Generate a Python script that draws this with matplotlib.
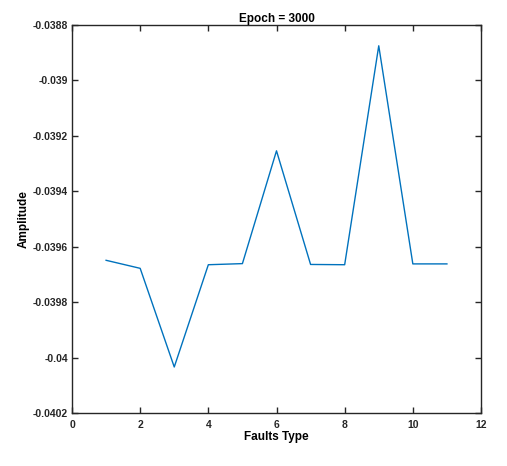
import matplotlib
matplotlib.use('Agg')
import matplotlib.pyplot as plt
import numpy as np

# fault type index and amplitude
fault_type = [1, 2, 3, 4, 5, 6, 7, 8, 9, 10, 11]
amplitude = [-0.039649, -0.039678, -0.040034, -0.039665, -0.039661,
             -0.039254, -0.039664, -0.039665, -0.038875, -0.039662, -0.039662]
x_ticks = [0, 2, 4, 6, 8, 10, 12]
y_ticks = [-0.0402, -0.04, -0.0398, -0.0396, -0.0394, -0.0392, -0.039, -0.0388]
y_tick_labels = ['-0.0402', '-0.04', '-0.0398', '-0.0396', '-0.0394', '-0.0392', '-0.039', '-0.0388']

plt.rcParams['font.family'] = ['Liberation Sans', 'DejaVu Sans']
plt.rcParams['font.weight'] = 'bold'

fig = plt.figure(figsize=(5.07, 4.66), dpi=100)
ax = fig.add_axes([72/507, 53/466, 409/507, 388/466])

ax.plot(fault_type, amplitude, color=(0, 0.447, 0.741), linewidth=1.0)

ax.set_xlim(0, 12)
ax.set_ylim(-0.0402, -0.0388)
ax.set_xticks(x_ticks)
ax.set_xticklabels([str(t) for t in x_ticks])
ax.set_yticks(y_ticks)
ax.set_yticklabels(y_tick_labels)

ax.tick_params(direction='in', length=4, width=1, labelsize=7.5, colors='#262626',
               top=True, right=True, pad=3)
ax.tick_params(axis='x', pad=5)
for lbl in ax.get_xticklabels() + ax.get_yticklabels():
    lbl.set_color('#262626')
for s in ax.spines.values():
    s.set_linewidth(1.0)
    s.set_color('#262626')

ax.set_xlabel('Faults Type', fontsize=8.5, fontweight='bold', labelpad=1)
ax.set_ylabel('Amplitude', fontsize=8.5, fontweight='bold', labelpad=2)
ax.set_title('Epoch = 3000', fontsize=8.5, fontweight='bold', pad=2)

fig.savefig('out.png', dpi=100)
